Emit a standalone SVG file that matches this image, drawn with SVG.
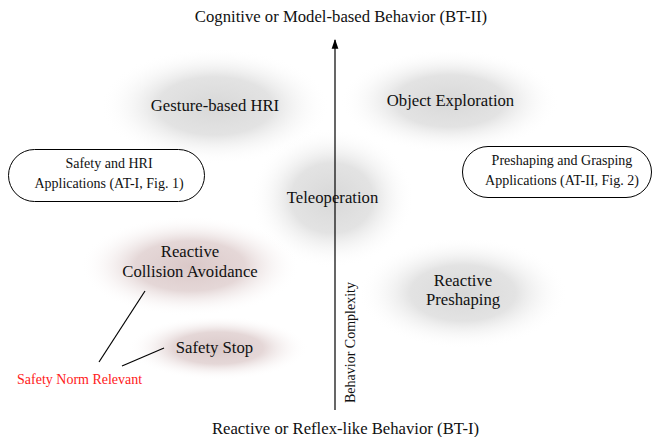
<svg xmlns="http://www.w3.org/2000/svg" width="656" height="437" viewBox="0 0 656 437" font-family="'Liberation Serif', 'Times New Roman', Times, serif">
<defs>
<radialGradient id="gray">
<stop offset="0" stop-color="#d8d8d8" stop-opacity="1"/>
<stop offset="0.5" stop-color="#dedede" stop-opacity="0.85"/>
<stop offset="1" stop-color="#ffffff" stop-opacity="0"/>
</radialGradient>
<radialGradient id="pink">
<stop offset="0" stop-color="#dac8c8" stop-opacity="1"/>
<stop offset="0.5" stop-color="#e0d0d0" stop-opacity="0.85"/>
<stop offset="1" stop-color="#ffffff" stop-opacity="0"/>
</radialGradient>
<marker id="arr" viewBox="0 0 10 10" refX="9" refY="5" markerWidth="8" markerHeight="8" orient="auto">
<path d="M0,1.5 L10,5 L0,8.5 z" fill="#000"/>
</marker>
</defs>
<style>
text{font-family:'Liberation Serif','Times New Roman',Times,serif;fill:#111}
.n{font-size:16.7px;text-anchor:middle}
.b{font-size:14px;text-anchor:middle}
.box{fill:#fff;stroke:#000;stroke-width:1}
.ln{stroke:#000;stroke-width:1.2;fill:none}
</style>
<rect width="656" height="437" fill="#fff"/>
<g id="gesture"><ellipse cx="215" cy="106" rx="115" ry="58" fill="url(#gray)"/><text class="n" x="215" y="111">Gesture-based HRI</text></g>
<g id="object"><ellipse cx="450" cy="101" rx="110" ry="52" fill="url(#gray)"/><text class="n" x="450.5" y="106">Object Exploration</text></g>
<g id="teleop"><ellipse cx="332" cy="198" rx="82" ry="70" fill="url(#gray)"/><text class="n" x="332.5" y="203">Teleoperation</text></g>
<g id="collision"><ellipse cx="190" cy="266" rx="110" ry="50" fill="url(#pink)"/><text class="n" x="190" y="257">Reactive</text><text class="n" x="190" y="277">Collision Avoidance</text></g>
<g id="preshaping"><ellipse cx="463" cy="293" rx="105" ry="56" fill="url(#gray)"/><text class="n" x="463" y="286">Reactive</text><text class="n" x="463" y="305">Preshaping</text></g>
<g id="stop"><ellipse cx="218" cy="348" rx="90" ry="32" fill="url(#pink)"/><text class="n" x="214.5" y="353">Safety Stop</text></g>
<g id="safetyHRI"><rect class="box" x="8.5" y="149.5" width="196" height="52" rx="26" ry="26"/><text class="b" x="109" y="168">Safety and HRI</text><text class="b" x="109" y="188">Applications (AT-I, Fig. 1)</text></g>
<g id="grasping"><rect class="box" x="462.5" y="146.5" width="189" height="51" rx="25.5" ry="25.5"/><text class="b" x="562" y="165">Preshaping and Grasping</text><text class="b" x="562" y="185">Applications (AT-II, Fig. 2)</text></g>
<g id="norm"><text x="17" y="384" font-size="14" fill="#ff2020" style="fill:#ff2020">Safety Norm Relevant</text></g>
<g id="connectors">
<line class="ln" x1="335" y1="410" x2="335" y2="40" marker-end="url(#arr)"/>
<line class="ln" x1="145" y1="291" x2="99" y2="362"/>
<line class="ln" x1="164" y1="348" x2="122" y2="366"/>
</g>
<g id="axis">
<text class="n" x="341" y="22">Cognitive or Model-based Behavior (BT-II)</text>
<text class="n" x="345.5" y="434">Reactive or Reflex-like Behavior (BT-I)</text>
<text class="b" transform="translate(355,342.5) rotate(-90)" x="0" y="0">Behavior Complexity</text>
</g>
</svg>
